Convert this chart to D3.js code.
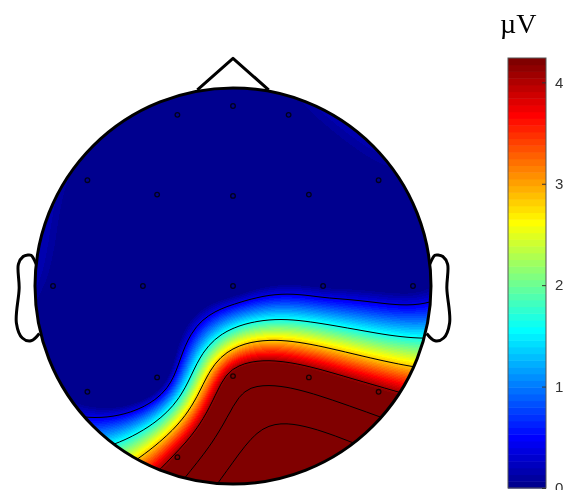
<!DOCTYPE html>
<html><head><meta charset="utf-8">
<script src="https://cdn.jsdelivr.net/npm/d3@7"></script>
<style>
body{margin:0;background:#fff;}
#wrap{position:relative;width:565px;height:490px;overflow:hidden;}
canvas,svg{position:absolute;left:0;top:0;}
</style>
</head><body>
<div id="wrap"><canvas id="cv" width="565" height="490"></canvas><svg id="sv" width="565" height="490"></svg></div>
<script>
// ---------------- DATA ----------------
const channels = ["Fp1","Fpz","Fp2","F7","F3","Fz","F4","F8","T7","C3","Cz","C4","T8","P7","P3","Pz","P4","P8","O1"];
// polar locations: angle from nose (deg, + = right), radius as fraction of head radius
const theta  = [-18, 0, 18, -54, -39.7, 0, 39.7, 54, -90, -90, 0, 90, 90, -126, -140.3, 180, 140.3, 126, -162];
const radius = [0.909,0.909,0.909,0.909,0.60,0.455,0.60,0.909,0.909,0.455,0,0.455,0.909,0.909,0.60,0.455,0.60,0.909,0.909];
// amplitudes (µV)
const values = [-0.3,-0.5,-0.12,-0.12,-0.6,-0.7,-0.5,-0.08,-0.03,-0.6,-0.3, 0.0,-0.1,-0.3,-0.5, 4.4, 4.6, 4.3, 4.3];
const contourLevels = [0.4, 1.62, 2.84, 4.06, 5.28, 6.5];
const colorTicks = [0, 1, 2, 3, 4];
const colorMax = 4.24;
const unitLabel = "\u00B5V";

// ---------------- LAYOUT ----------------
const W = 565, H = 490;
const cx = 233, cy = 286, R = 198;     // head circle in px
const GRID = 67;                        // interpolation grid (EEGLAB style)
const bar = {x: 508, w: 38, top: 58, bottom: 488};

// jet colormap (MATLAB jet(64))
function jet(n){
  const m = Math.ceil(n/4), u = [];
  for (let i=1;i<=m;i++) u.push(i/m);
  for (let i=1;i<=m-1;i++) u.push(1);
  for (let i=m;i>=1;i--) u.push(i/m);
  const g0 = Math.ceil(m/2) - (n%4===1?1:0);
  const J = Array.from({length:n},()=>[0,0,0]);
  for (let k=0;k<u.length;k++){
    const g=g0+k+1, r=g+m, b=g-m;
    if (r>=1&&r<=n) J[r-1][0]=u[k];
    if (g>=1&&g<=n) J[g-1][1]=u[k];
    if (b>=1&&b<=n) J[b-1][2]=u[k];
  }
  return J.map(c=>d3.rgb(Math.round(c[0]*255),Math.round(c[1]*255),Math.round(c[2]*255)));
}
const jetColors = jet(64);
const color = d3.scaleQuantize().domain([0, colorMax]).range(jetColors);

// electrode positions in head units (head radius = 0.5)
const ex = theta.map((t,i)=> 0.5*radius[i]*Math.sin(t*Math.PI/180));
const ey = theta.map((t,i)=> 0.5*radius[i]*Math.cos(t*Math.PI/180));

// biharmonic spline (griddata 'v4')
function green(d){ return d===0 ? 0 : d*d*(Math.log(d)-1); }
const n = values.length;
const A = [];
for (let i=0;i<n;i++){ A.push([]); for (let k=0;k<n;k++) A[i].push(green(Math.hypot(ex[i]-ex[k], ey[i]-ey[k]))); A[i].push(values[i]); }
for (let c=0;c<n;c++){
  let p=c; for (let r=c+1;r<n;r++) if (Math.abs(A[r][c])>Math.abs(A[p][c])) p=r;
  [A[c],A[p]]=[A[p],A[c]];
  for (let r=0;r<n;r++){ if (r===c) continue; const f=A[r][c]/A[c][c]; for (let k=c;k<=n;k++) A[r][k]-=f*A[c][k]; }
}
const wts = A.map((row,i)=>row[n]/row[i]);
function interp(x,y){ let s=0; for (let i=0;i<n;i++) s+=wts[i]*green(Math.hypot(x-ex[i],y-ey[i])); return s; }

const grid = new Float64Array(GRID*GRID);
for (let j=0;j<GRID;j++) for (let i=0;i<GRID;i++){
  grid[j*GRID+i] = interp(-0.5 + i/(GRID-1), 0.5 - j/(GRID-1));
}
function gridAt(fi,fj){
  fi=Math.max(0,Math.min(GRID-1.0001,fi)); fj=Math.max(0,Math.min(GRID-1.0001,fj));
  const i=Math.floor(fi), j=Math.floor(fj), a=fi-i, b=fj-j;
  const v00=grid[j*GRID+i], v10=grid[j*GRID+i+1], v01=grid[(j+1)*GRID+i], v11=grid[(j+1)*GRID+i+1];
  return (v00*(1-a)+v10*a)*(1-b)+(v01*(1-a)+v11*a)*b;
}

// ---------------- FIELD (canvas) ----------------
const ctx = document.getElementById("cv").getContext("2d");
const img = ctx.createImageData(W,H);
const pxPerIdx = 2*R/(GRID-1);
for (let py=Math.floor(cy-R)-1; py<=cy+R+1; py++){
  for (let px=Math.floor(cx-R)-1; px<=cx+R+1; px++){
    const dx=px+0.5-cx, dy=py+0.5-cy;
    if (dx*dx+dy*dy > (R+0.5)*(R+0.5)) continue;
    const v = gridAt((px+0.5-(cx-R))/pxPerIdx, (py+0.5-(cy-R))/pxPerIdx);
    const c = color(v);
    const o=(py*W+px)*4;
    img.data[o]=c.r; img.data[o+1]=c.g; img.data[o+2]=c.b; img.data[o+3]=255;
  }
}
ctx.putImageData(img,0,0);

// ---------------- SVG overlay ----------------
const svg = d3.select("#sv");
svg.append("defs").append("clipPath").attr("id","headclip")
  .append("circle").attr("cx",cx).attr("cy",cy).attr("r",R);

// contours
const gx = d3.scaleLinear().domain([0.5, GRID-0.5]).range([cx-R, cx+R]);
const gy = d3.scaleLinear().domain([0.5, GRID-0.5]).range([cy-R, cy+R]);
const contours = d3.contours().size([GRID,GRID]).thresholds(contourLevels)(Array.from(grid));
const proj = d3.geoTransform({point(x,y){ this.stream.point(gx(x), gy(y)); }});
svg.append("g").attr("clip-path","url(#headclip)")
  .selectAll("path").data(contours).join("path")
  .attr("d", d3.geoPath(proj))
  .attr("fill","none").attr("stroke","#000").attr("stroke-width",1);

// head, nose, ears
const sc = R/0.5;
const earX = [.497,.510,.518,.5299,.5419,.54,.547,.532,.510,.489];
const earY = [.0555,.0775,.0783,.0746,.0555,-.0055,-.0932,-.1313,-.1384,-.1199];
const line = d3.line().curve(d3.curveCatmullRom.alpha(0.5));
const outline = svg.append("g").attr("fill","none").attr("stroke","#000").attr("stroke-width",3).attr("stroke-linejoin","round");
outline.append("circle").attr("cx",cx).attr("cy",cy).attr("r",R);
outline.append("path").attr("d", d3.line()([[cx-0.09*sc, cy-0.4954*sc],[cx, cy-0.575*sc],[cx+0.09*sc, cy-0.4954*sc]]));
outline.append("path").attr("d", line(earX.map((x,i)=>[cx+x*sc, cy-earY[i]*sc])));
outline.append("path").attr("d", line(earX.map((x,i)=>[cx-x*sc, cy-earY[i]*sc])));

// electrodes
svg.append("g").selectAll("circle").data(channels).join("circle")
  .attr("cx",(d,i)=>cx+ex[i]*sc).attr("cy",(d,i)=>cy-ey[i]*sc).attr("r",2.3)
  .attr("fill","none").attr("stroke","#000").attr("stroke-opacity",0.8).attr("stroke-width",1.3);

// colorbar
const yb = d3.scaleLinear().domain([0,colorMax]).range([bar.bottom, bar.top]);
const cb = svg.append("g");
cb.selectAll("rect").data(jetColors).join("rect")
  .attr("x",bar.x).attr("width",bar.w)
  .attr("y",(d,i)=>yb((i+1)*colorMax/64)).attr("height",(d,i)=>yb(i*colorMax/64)-yb((i+1)*colorMax/64)+0.5)
  .attr("fill",d=>d);
cb.append("rect").attr("x",bar.x).attr("y",bar.top).attr("width",bar.w).attr("height",bar.bottom-bar.top)
  .attr("fill","none").attr("stroke","#555").attr("stroke-width",1);
const ax = cb.append("g").attr("transform",`translate(${bar.x+bar.w},0)`)
  .call(d3.axisRight(yb).tickValues(colorTicks).tickSize(-4).tickPadding(9).tickFormat(d3.format("d")));
ax.select(".domain").remove();
ax.selectAll("line").attr("stroke","#333");
ax.selectAll("text").attr("font-family","Liberation Sans, Arial, sans-serif").attr("font-size",15).attr("fill","#333");
svg.append("text").attr("x",500).attr("y",33).attr("font-family","Liberation Serif, Times New Roman, serif")
  .attr("font-size",28).attr("fill","#000").text(unitLabel);
</script>
</body></html>
